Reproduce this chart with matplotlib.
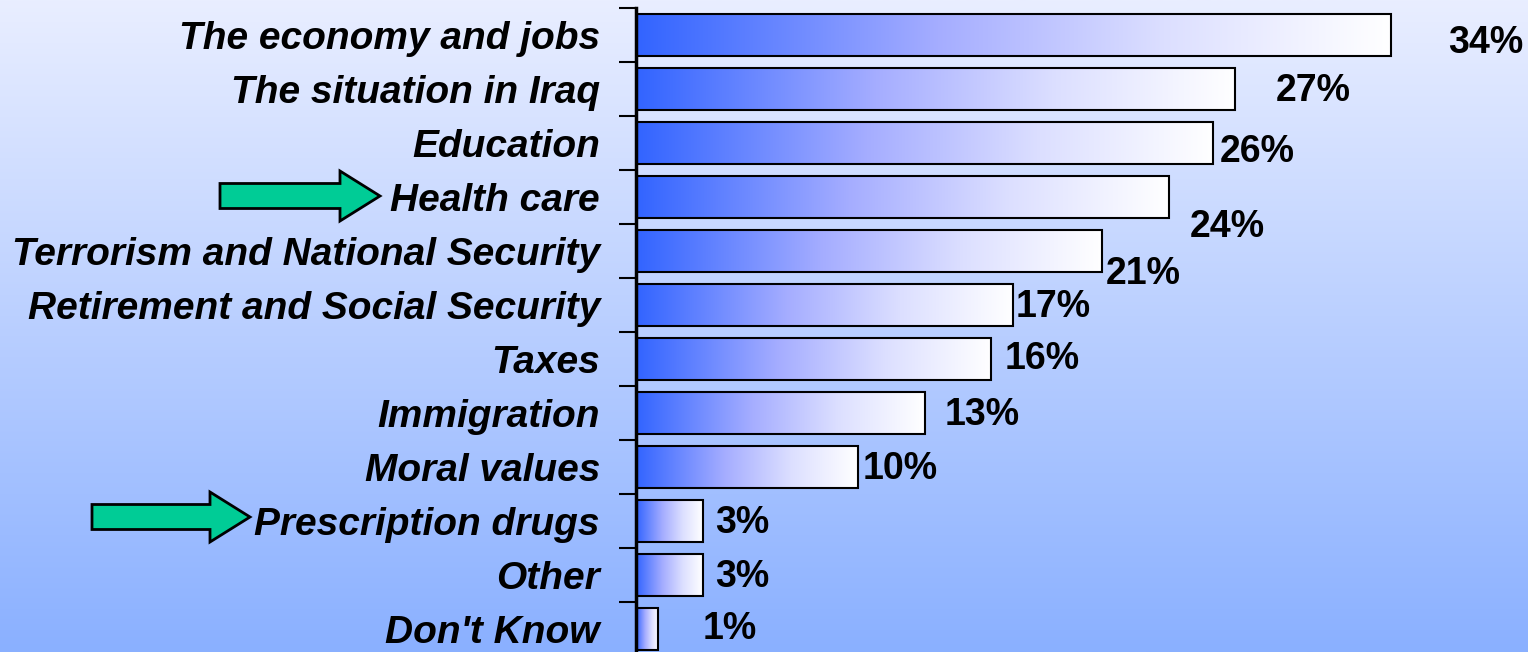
import numpy as np
import matplotlib.pyplot as plt
from matplotlib.patches import FancyArrow
from matplotlib.colors import LinearSegmentedColormap

# Data
categories = [
    "The economy and jobs",
    "The situation in Iraq",
    "Education",
    "Health care",
    "Terrorism and National Security",
    "Retirement and Social Security",
    "Taxes",
    "Immigration",
    "Moral values",
    "Prescription drugs",
    "Other",
    "Don't Know",
]
values = [34, 27, 26, 24, 21, 17, 16, 13, 10, 3, 3, 1]
value_labels = [f"{v}%" for v in values]
highlighted = ["Health care", "Prescription drugs"]

# where each % label sits relative to the end of its bar (x in %, y in rows)
label_dx = [2.6, 1.8, 0.3, 0.95, 0.15, 0.1, 0.6, 0.9, 0.2, 0.55, 0.55, 2.0]
label_dy = [0.14, 0.04, 0.17, 0.56, 0.43, 0.04, 0.0, 0.04, 0.04, 0.04, 0.04, 0.0]

W, H = 1528, 652
fig = plt.figure(figsize=(W / 100, H / 100), dpi=100)

# background gradient
bg = fig.add_axes([0, 0, 1, 1], zorder=0)
top = np.array([233, 238, 255]) / 255
bot = np.array([138, 176, 255]) / 255
t = np.linspace(0, 1, 256)[:, None]
grad_bg = (top[None, :] * (1 - t) + bot[None, :] * t)[:, None, :]
bg.imshow(grad_bg, extent=[0, W, H, 0], aspect="auto")
bg.set_xlim(0, W)
bg.set_ylim(H, 0)
bg.axis("off")

# chart axes
px_per_pct = 22.2
left = 636
ax = fig.add_axes([left / W, -4 / H, (W - left) / W, 648 / H], zorder=1)
ax.patch.set_visible(False)

bar_cmap = LinearSegmentedColormap.from_list(
    "bar", [(0, "#3264ff"), (0.4, "#a5adff"), (0.7, "#dcdfff"), (1, "#ffffff")])
grad = np.linspace(0, 1, 256)[None, :]
pos = np.arange(len(categories))
bar_h = 0.78
for i, v in enumerate(values):
    ax.imshow(grad, extent=[0, v, i + bar_h / 2, i - bar_h / 2], cmap=bar_cmap,
              aspect="auto", zorder=2, interpolation="bilinear")
ax.barh(pos, values, height=bar_h, fill=False, edgecolor="black", linewidth=1.5, zorder=3)

for i, v in enumerate(values):
    ax.text(v + label_dx[i], i + label_dy[i], value_labels[i], ha="left", va="center",
            fontsize=27, fontweight="bold", family="Liberation Sans", zorder=4)

ax.set_xlim(0, (W - left) / px_per_pct)
ax.set_ylim(len(categories) - 0.5, -0.5)

ax.set_yticks(pos)
ax.set_yticklabels(categories, fontsize=28, fontweight="bold", fontstyle="italic",
                   family="Liberation Sans")
ax.tick_params(axis="y", which="major", length=0, pad=26)
ax.set_yticks(np.arange(len(categories)) - 0.5, minor=True)
ax.tick_params(axis="y", which="minor", length=12, width=1.5, color="black")
ax.set_xticks([])
for s in ["top", "right", "bottom"]:
    ax.spines[s].set_visible(False)
ax.spines["left"].set_linewidth(2.5)

# green arrows pointing at highlighted items
arrows = {"Health care": (220, 196, 160), "Prescription drugs": (92, 517, 158)}
for name in highlighted:
    x0, y0, length = arrows[name]
    bg.add_patch(FancyArrow(x0, y0, length, 0, width=25, head_width=50, head_length=40,
                            length_includes_head=True, facecolor="#00cc96",
                            edgecolor="black", linewidth=2))

fig.savefig("out.png", dpi=100)
